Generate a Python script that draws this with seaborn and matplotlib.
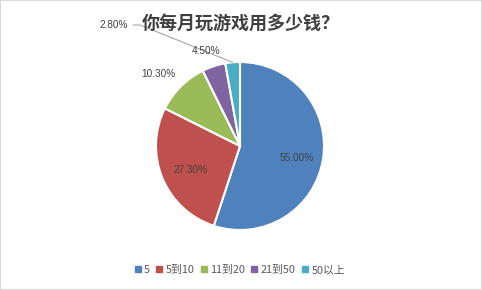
import matplotlib
matplotlib.use("Agg")
import matplotlib.pyplot as plt
import seaborn as sns
import numpy as np
from matplotlib.patches import Rectangle
from matplotlib.lines import Line2D

sns.set_theme(style="white")
plt.rcParams['font.family'] = ['Noto Sans CJK SC', 'DejaVu Sans']

title = "你每月玩游戏用多少钱？"
categories = ["5", "5到10", "11到20", "21到50", "50以上"]
values = [55.0, 27.3, 10.3, 4.5, 2.8]
labels = ["55.00%", "27.30%", "10.30%", "4.50%", "2.80%"]
colors = sns.color_palette(["#4F81BD", "#C0504D", "#9BBB59", "#8064A2", "#4BACC6"])

W, H = 482, 290
fig = plt.figure(figsize=(W / 100, H / 100), dpi=100)
ax = fig.add_axes([0, 0, 1, 1])
ax.set_xlim(0, W)
ax.set_ylim(0, H)
ax.set_aspect('equal')
ax.axis('off')

cx, cy, r = 240, H - 146, 84
wedges, _ = ax.pie(values, colors=colors, startangle=90, counterclock=False,
                   center=(cx, cy), radius=r,
                   wedgeprops=dict(edgecolor='white', linewidth=1.5))
ax.set_xlim(0, W)
ax.set_ylim(0, H)

txt_c = '#404040'
label_pos = [(297, 158), (190, 170), (158, 74), (206, 51), (114, 25)]
for lab, (x, y) in zip(labels, label_pos):
    ax.text(x, H - y, lab, ha='center', va='center', fontsize=7.2, color=txt_c,
            family=['Liberation Sans'])

w = wedges[4]
mid = np.deg2rad((w.theta1 + w.theta2) / 2)
ex, ey = cx + r * np.cos(mid), cy + r * np.sin(mid)
ax.plot([133, 140, ex], [H - 25, H - 25, ey], color='#A6A6A6', lw=0.8)

ax.text(241, H - 24, title, ha='center', va='center', fontsize=13,
        fontweight='bold', color='#404040')

handles = [Line2D([], [], marker='s', linestyle='', markersize=4.5,
                  markerfacecolor=c, markeredgecolor=c) for c in colors]
fig.legend(handles, categories, loc='center', bbox_to_anchor=(240 / W, 1 - 270 / H),
           ncol=5, frameon=False, fontsize=7.8, handlelength=0.5, handletextpad=0.35,
           columnspacing=0.6, labelcolor='#595959')

fig.patches.append(Rectangle((0, 0), 1, 1, transform=fig.transFigure, fill=False,
                             edgecolor='#D9D9D9', linewidth=1.5))

fig.savefig("out.png", dpi=100)
